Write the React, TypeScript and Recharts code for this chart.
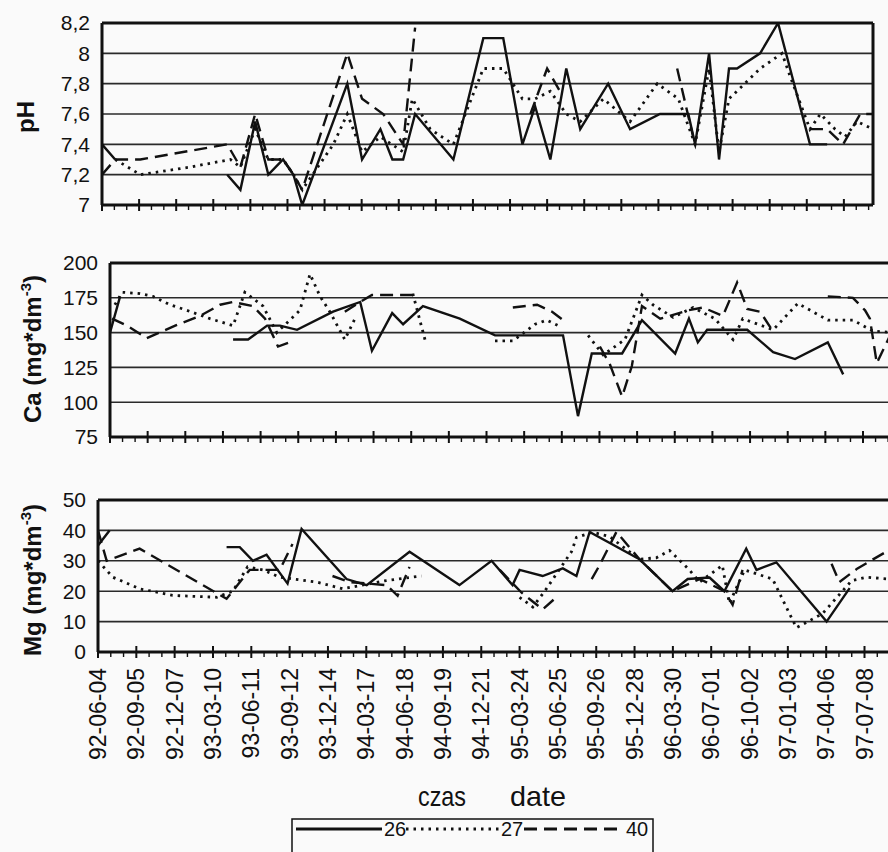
import React from 'react';
import { LineChart, Line, XAxis, YAxis, CartesianGrid, ReferenceLine } from 'recharts';

const FONT = "'Liberation Sans', Arial, sans-serif";
const INK = '#111';

// x values are days counted from 92-06-04; labels every 93 days, minor ticks every 31
const TICK_DAYS = 93;
const MINOR_DAYS = 31;

const dateLabels = [
  '92-06-04', '92-09-05', '92-12-07', '93-03-10', '93-06-11', '93-09-12', '93-12-14',
  '94-03-17', '94-06-18', '94-09-19', '94-12-21', '95-03-24', '95-06-25', '95-09-26',
  '95-12-28', '96-03-30', '96-07-01', '96-10-02', '97-01-03', '97-04-06', '97-07-08',
];

const seriesNames = ['26', '27', '40'];
const seriesDash = [undefined, '2.5 5', '13 7'];

// pH
const phTicks = [7, 7.2, 7.4, 7.6, 7.8, 8, 8.2];
const phDays26 = [0, 33, 170, 314, 347, 384, 417, 454, 480, 502, 615, 652, 698, 728, 755, 785, 881, 956, 1006, 1054, 1086, 1124, 1164, 1199, 1269, 1324, 1399, 1470, 1487, 1522, 1547, 1572, 1592, 1650, 1695, 1775, 1818];
const ph26 = [7.4, 7.3, null, 7.2, 7.1, 7.55, 7.2, 7.3, 7.2, 7.0, 7.8, 7.3, 7.5, 7.3, 7.3, 7.6, 7.3, 8.1, 8.1, 7.4, 7.65, 7.3, 7.9, 7.5, 7.8, 7.5, 7.6, 7.6, 7.4, 8.0, 7.3, 7.9, 7.9, 8.0, 8.2, 7.4, 7.4];
const phDays27 = [33, 96, 221, 322, 347, 384, 417, 454, 480, 502, 580, 615, 652, 698, 755, 778, 823, 881, 956, 1006, 1054, 1086, 1124, 1164, 1199, 1257, 1324, 1392, 1445, 1487, 1522, 1547, 1572, 1650, 1705, 1725, 1775, 1801, 1838, 1863, 1893, 1933];
const ph27 = [7.3, 7.2, 7.25, 7.3, 7.25, 7.5, 7.3, 7.3, 7.2, 7.1, 7.4, 7.6, 7.35, 7.45, 7.35, 7.7, 7.5, 7.4, 7.9, 7.9, 7.7, 7.7, 7.75, 7.6, 7.55, 7.7, 7.55, 7.8, 7.7, 7.4, 7.9, 7.35, 7.7, 7.9, 8.0, 7.85, 7.5, 7.6, 7.5, 7.45, 7.55, 7.5];
const phDays40 = [0, 33, 96, 314, 347, 384, 417, 454, 480, 502, 615, 652, 705, 755, 785, 823, 1074, 1116, 1148, 1249, 1442, 1482, 1625, 1775, 1818, 1858, 1901, 1933];
const ph40 = [7.2, 7.3, 7.3, 7.4, 7.25, 7.6, 7.3, 7.3, 7.2, 7.1, 8.0, 7.7, 7.6, 7.4, 8.17, null, 7.6, 7.9, 7.75, null, 7.9, 7.45, null, 7.5, 7.5, 7.4, 7.6, 7.6];

// Ca (mg*dm-3)
const caTicks = [75, 100, 125, 150, 175, 200];
const caDays26 = [0, 25, 60, 304, 341, 388, 420, 462, 551, 618, 647, 697, 724, 773, 864, 951, 1119, 1156, 1190, 1265, 1314, 1396, 1430, 1452, 1475, 1574, 1638, 1692, 1773, 1811];
const ca26 = [150, 176, null, 145, 145, 155, 155, 152, 165, 172, 137, 164, 156, 169, 160, 148, 148, 90, 135, 135, 159, 135, 160, 143, 152, 152, 136, 131, 143, 120];
const caDays27 = [12, 30, 74, 106, 148, 190, 247, 304, 333, 378, 412, 469, 494, 519, 543, 580, 605, 667, 748, 778, 864, 951, 995, 1050, 1079, 1107, 1144, 1181, 1218, 1272, 1314, 1341, 1391, 1440, 1494, 1539, 1563, 1638, 1699, 1773, 1835, 1885, 1939];
const ca27 = [170, 179, 178, 176, 170, 166, 160, 155, 179, 169, 150, 166, 192, 176, 165, 145, 160, null, 178, 145, null, 144, 144, 156, 159, 155, null, 148, 134, 145, 177, 170, 161, 168, 160, 145, 160, 152, 171, 159, 159, 151, 150];
const caDays40 = [5, 42, 91, 161, 222, 272, 304, 353, 383, 415, 452, 519, 580, 618, 647, 748, 840, 995, 1055, 1092, 1119, 1173, 1210, 1235, 1265, 1289, 1314, 1359, 1428, 1465, 1514, 1549, 1574, 1606, 1635, 1704, 1773, 1835, 1865, 1877, 1894, 1927];
const ca40 = [160, 155, 146, 155, 162, 170, 172, 169, 160, 140, 144, null, 165, 172, 177, 177, null, 168, 170, 165, 159, null, 140, 127, 104, 126, 169, 160, 166, 168, 162, 186, 167, 165, 152, null, 176, 175, 166, 160, 128, 148];

// Mg (mg*dm-3)
const mgTicks = [0, 10, 20, 30, 40, 50];
const mgDays26 = [0, 28, 60, 312, 344, 376, 409, 460, 494, 603, 652, 756, 877, 955, 1006, 1023, 1079, 1128, 1161, 1193, 1314, 1394, 1431, 1484, 1520, 1573, 1598, 1646, 1768, 1824];
const mg26 = [35, 40, null, 34.5, 34.5, 30, 32, 22.5, 40.5, 24, 22, 33, 22, 30, 22, 27, 25, 27.5, 25, 39.5, 30.5, 20, 24, 24.5, 20, 34, 27, 29.5, 10, 21];
const mgDays27 = [0, 36, 101, 181, 288, 327, 363, 400, 441, 531, 594, 700, 756, 785, 902, 1023, 1055, 1084, 1149, 1161, 1200, 1241, 1314, 1355, 1387, 1435, 1460, 1515, 1532, 1569, 1637, 1678, 1695, 1758, 1829, 1865, 1920];
const mg27 = [30, 24.6, 20.8, 18.6, 18, 20, 28, 27, 24.6, 23, 20.8, 23.5, 24.5, 25, null, 18, 14.8, 20, 33, 37.7, 39.4, 38, 30.5, 31, 33.4, 27, 23, 28.5, 16, 27, 24, 12.6, 8, 12.6, 23.5, 24.6, 24];
const mgDays40 = [0, 21, 101, 312, 368, 441, 472, 526, 569, 611, 700, 727, 756, 853, 975, 1028, 1079, 1108, 1156, 1198, 1217, 1258, 1314, 1394, 1460, 1520, 1540, 1564, 1678, 1780, 1799, 1843, 1913];
const mg40 = [40, 30, 34, 17.5, 27, 27, 35.5, null, 25, 23, 22, 18.5, 28, null, 27, 19.5, 14, 17.5, null, 24, 28.5, 39.5, 30.5, 20, 24, 20, 15.5, 27, null, 29, 23, 27.5, 33];

type Pt = { d: number; v: number | null };
const toPoints = (days: number[], vals: (number | null)[]): Pt[] => days.map((d, i) => ({ d, v: vals[i] }));

const XTick = (props: any) => {
  const { x, y, payload, labels } = props;
  const d = payload.value;
  const major = d % TICK_DAYS === 0;
  const label = dateLabels[d / TICK_DAYS];
  return (
    <g>
      <line x1={x} x2={x} y1={major ? y - 6 : y} y2={y + (major ? 6 : 5)} stroke={INK} strokeWidth={major ? 2 : 1.4} />
      {labels && major && label && (
        <text x={x + 8} y={y + 16} transform={`rotate(-90 ${x + 8} ${y + 16})`} textAnchor="end"
          fontSize={23} fontFamily={FONT} fill={INK}>{label}</text>
      )}
    </g>
  );
};

interface PanelProps {
  top: number;
  width: number;
  height: number;
  yAxisWidth: number;
  marginTop: number;
  marginRight: number;
  xAxisHeight: number;
  xMax: number;
  yTicks: number[];
  series: Pt[][];
  labels?: boolean;
  rightBorder?: boolean;
}

const Panel = (p: PanelProps) => {
  const xTicks: number[] = [];
  for (let d = 0; d <= p.xMax; d += MINOR_DAYS) xTicks.push(d);
  const yMin = p.yTicks[0];
  const yMax = p.yTicks[p.yTicks.length - 1];
  return (
    <div style={{ position: 'absolute', left: 0, top: p.top }}>
      <LineChart width={p.width} height={p.height}
        margin={{ top: p.marginTop, right: p.marginRight, bottom: 0, left: 0 }}>
        <CartesianGrid horizontal vertical={false} stroke="#2a2a2a" strokeWidth={1.6} />
        <XAxis type="number" dataKey="d" domain={[0, p.xMax]} ticks={xTicks} interval={0}
          allowDataOverflow height={p.xAxisHeight} tickSize={0} tickMargin={0} tickLine={false}
          axisLine={{ stroke: INK, strokeWidth: 3 }}
          tick={(t: any) => <XTick {...t} labels={p.labels} />} />
        <YAxis type="number" domain={[yMin, yMax]} ticks={p.yTicks} interval={0} allowDataOverflow
          width={p.yAxisWidth} tickSize={0} tickMargin={12} tickLine={false}
          axisLine={{ stroke: INK, strokeWidth: 3 }}
          tick={{ fontSize: 21, fill: INK, fontFamily: FONT }}
          tickFormatter={(v: number) => String(v).replace('.', ',')} />
        <ReferenceLine y={yMax} stroke={INK} strokeWidth={3} />
        {p.rightBorder && <ReferenceLine x={p.xMax} stroke={INK} strokeWidth={3} />}
        {p.series.map((pts, i) => (
          <Line key={seriesNames[i]} name={seriesNames[i]} data={pts} dataKey="v" type="linear"
            stroke={INK} strokeWidth={i === 1 ? 2.8 : 2.4} strokeDasharray={seriesDash[i]}
            dot={false} activeDot={false} connectNulls={false} isAnimationActive={false} />
        ))}
      </LineChart>
    </div>
  );
};

const legendItems = [
  { x1: 296, x2: 382, tx: 384 },
  { x1: 406, x2: 499, tx: 501 },
  { x1: 524, x2: 617, tx: 626 },
];

export default function App() {
  const ph = [toPoints(phDays26, ph26), toPoints(phDays27, ph27), toPoints(phDays40, ph40)];
  const ca = [toPoints(caDays26, ca26), toPoints(caDays27, ca27), toPoints(caDays40, ca40)];
  const mg = [toPoints(mgDays26, mg26), toPoints(mgDays27, mg27), toPoints(mgDays40, mg40)];

  return (
    <div style={{ position: 'absolute', left: 0, top: 0, width: 888, height: 852, overflow: 'hidden', background: '#fafafa' }}>
      <Panel top={0} width={888} height={215} yAxisWidth={102} marginTop={23} marginRight={15}
        xAxisHeight={10} xMax={1933} yTicks={phTicks} series={ph} rightBorder />
      <Panel top={240} width={900} height={210} yAxisWidth={110} marginTop={23} marginRight={5}
        xAxisHeight={13} xMax={1939} yTicks={caTicks} series={ca} />
      <Panel top={470} width={900} height={302} yAxisWidth={98} marginTop={30} marginRight={5}
        xAxisHeight={120} xMax={1934} yTicks={mgTicks} series={mg} labels />

      <svg width={888} height={852} style={{ position: 'absolute', left: 0, top: 0, pointerEvents: 'none' }}
        fontFamily={FONT} fill={INK}>
        <text x={34} y={117} transform="rotate(-90 34 117)" textAnchor="middle" fontSize={24} fontWeight="bold">pH</text>
        <text x={41} y={349} transform="rotate(-90 41 349)" textAnchor="middle" fontSize={24} fontWeight="bold">
          Ca (mg*dm<tspan dy={-10} fontSize={15}>-3</tspan><tspan dy={10}>)</tspan>
        </text>
        <text x={41} y={580} transform="rotate(-90 41 580)" textAnchor="middle" fontSize={24} fontWeight="bold">
          Mg (mg*dm<tspan dy={-10} fontSize={15}>-3</tspan><tspan dy={10}>)</tspan>
        </text>
        <text x={418} y={806} fontSize={28} textLength={48} lengthAdjust="spacingAndGlyphs">czas</text>
        <text x={510} y={806} fontSize={28} textLength={56} lengthAdjust="spacingAndGlyphs">date</text>

        <rect x={292} y={819} width={361} height={60} fill="none" stroke={INK} strokeWidth={1.5} />
        {legendItems.map((it, i) => (
          <g key={seriesNames[i]}>
            <line x1={it.x1} x2={it.x2} y1={829} y2={829} stroke={INK} strokeWidth={i === 1 ? 2.8 : 3}
              strokeDasharray={seriesDash[i]} />
            <text x={it.tx} y={836} fontSize={20}>{seriesNames[i]}</text>
          </g>
        ))}
      </svg>
    </div>
  );
}
